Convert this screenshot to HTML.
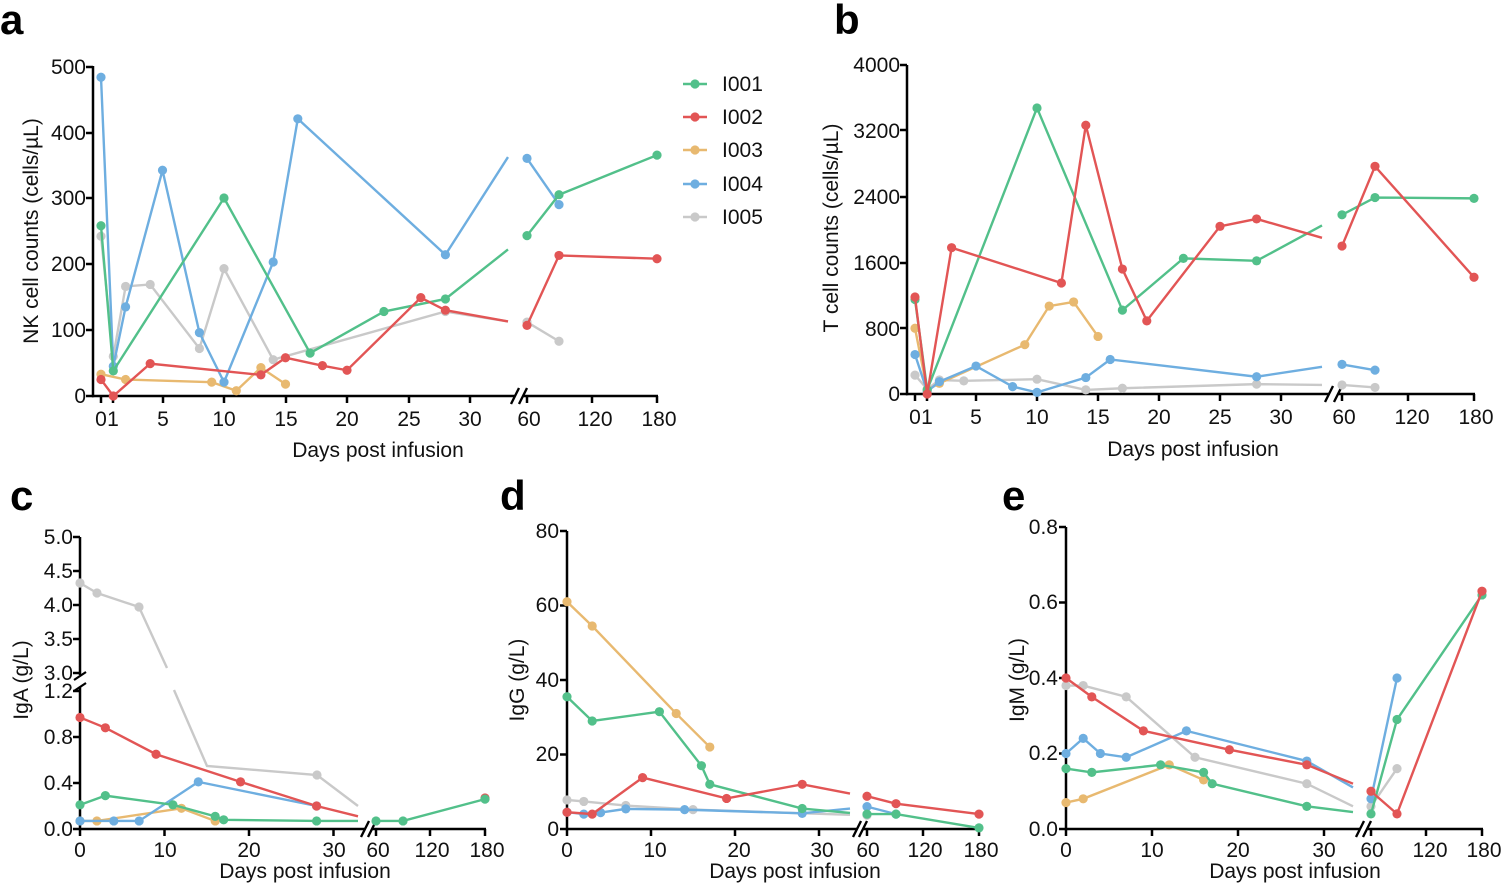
<!DOCTYPE html>
<html><head><meta charset="utf-8"><style>
html,body{margin:0;padding:0;background:#fff;}
svg{display:block;font-family:"Liberation Sans",sans-serif;}
</style></head><body>
<svg id="s" width="1506" height="884" viewBox="0 0 1506 884" xmlns="http://www.w3.org/2000/svg">
<g font-weight="bold" font-size="42" fill="#000">
<text x="0" y="34">a</text><text x="834" y="34">b</text>
<text x="10" y="510">c</text><text x="500" y="510">d</text><text x="1002" y="510">e</text>
</g>
<g font-size="21" fill="#111">
<g text-anchor="end"><text x="86" y="74">500</text><text x="86" y="140">400</text><text x="86" y="205">300</text><text x="86" y="271">200</text><text x="86" y="337">100</text><text x="86" y="403">0</text></g>
<g text-anchor="middle"><text x="101" y="426">0</text><text x="113" y="426">1</text><text x="163" y="426">5</text><text x="224" y="426">10</text><text x="286" y="426">15</text><text x="347" y="426">20</text><text x="409" y="426">25</text><text x="470" y="426">30</text><text x="529" y="426">60</text><text x="595" y="426">120</text><text x="659" y="426">180</text>
<text x="378" y="457" font-size="21">Days post infusion</text>
<text transform="translate(38,231) rotate(-90)">NK cell counts (cells/µL)</text></g>
<g><text x="722" y="91">I001</text><text x="722" y="124">I002</text><text x="722" y="157">I003</text><text x="722" y="191">I004</text><text x="722" y="224">I005</text></g>
<g text-anchor="end"><text x="900" y="72">4000</text><text x="900" y="138">3200</text><text x="900" y="204">2400</text><text x="900" y="270">1600</text><text x="900" y="336">800</text><text x="900" y="401">0</text></g>
<g text-anchor="middle"><text x="915" y="424">0</text><text x="927" y="424">1</text><text x="976" y="424">5</text><text x="1037" y="424">10</text><text x="1098" y="424">15</text><text x="1159" y="424">20</text><text x="1220" y="424">25</text><text x="1281" y="424">30</text><text x="1344" y="424">60</text><text x="1412" y="424">120</text><text x="1476" y="424">180</text>
<text x="1193" y="456">Days post infusion</text>
<text transform="translate(838,228) rotate(-90)">T cell counts (cells/µL)</text></g>
<g text-anchor="end"><text x="73" y="544">5.0</text><text x="73" y="578">4.5</text><text x="73" y="612">4.0</text><text x="73" y="646">3.5</text><text x="73" y="680">3.0</text><text x="73" y="698">1.2</text><text x="73" y="744">0.8</text><text x="73" y="790">0.4</text><text x="73" y="836">0.0</text></g>
<g text-anchor="middle"><text x="80" y="857">0</text><text x="165" y="857">10</text><text x="249" y="857">20</text><text x="334" y="857">30</text><text x="378" y="857">60</text><text x="432" y="857">120</text><text x="487" y="857">180</text>
<text x="305" y="878">Days post infusion</text>
<text transform="translate(28,680) rotate(-90)">IgA (g/L)</text></g>
<g text-anchor="end"><text x="559" y="538">80</text><text x="559" y="612">60</text><text x="559" y="687">40</text><text x="559" y="761">20</text><text x="559" y="836">0</text></g>
<g text-anchor="middle"><text x="567" y="857">0</text><text x="655" y="857">10</text><text x="739" y="857">20</text><text x="822" y="857">30</text><text x="868" y="857">60</text><text x="925" y="857">120</text><text x="981" y="857">180</text>
<text x="795" y="878">Days post infusion</text>
<text transform="translate(524,680) rotate(-90)">IgG (g/L)</text></g>
<g text-anchor="end"><text x="1058" y="534">0.8</text><text x="1058" y="609">0.6</text><text x="1058" y="685">0.4</text><text x="1058" y="760">0.2</text><text x="1058" y="836">0.0</text></g>
<g text-anchor="middle"><text x="1066" y="857">0</text><text x="1152" y="857">10</text><text x="1238" y="857">20</text><text x="1324" y="857">30</text><text x="1372" y="857">60</text><text x="1430" y="857">120</text><text x="1484" y="857">180</text>
<text x="1295" y="878">Days post infusion</text>
<text transform="translate(1024,680) rotate(-90)">IgM (g/L)</text></g>
</g>
<g id="plot"></g>
</svg>
<script>
const NS="http://www.w3.org/2000/svg";
const g=document.getElementById('plot');
function el(t,a){const e=document.createElementNS(NS,t);for(const k in a)e.setAttribute(k,a[k]);g.appendChild(e);return e;}
function line(x1,y1,x2,y2,w){el('line',{x1,y1,x2,y2,stroke:'#000','stroke-width':w||2.5});}
const C={g:'#52c08a',r:'#e25555',o:'#e8b970',b:'#6eaee0',y:'#c9c9c9'};
const P={
a:{x0:101,dx:12.3,E:508,A:527,B:559,C:657,y:v=>396-0.66*v},
b:{x0:915,dx:12.2,E:1322,A:1342,B:1375,C:1474,y:v=>394-v*0.0822},
c:{x0:80,dx:8.45,E:358,A:376,B:403,C:485,y:v=>v>=2.9?673-(v-3)*68:829-115*v},
d:{x0:567,dx:8.4,E:850,A:867,B:896,C:979,y:v=>829-3.725*v},
e:{x0:1066,dx:8.6,E:1353,A:1371,B:1397,C:1482,y:v=>829-377.5*v}};
function X(p,k){return typeof k==='number'?p.x0+p.dx*k:p[k];}
function series(pn,col,segs){const p=P[pn];
 segs.forEach(s=>{const pts=s.map(q=>[X(p,q[0]),p.y(q[1]),q[0]!=='E']);
  el('polyline',{points:pts.map(q=>q[0]+','+q[1]).join(' '),fill:'none',stroke:C[col],'stroke-width':2.4});
  pts.forEach(q=>{if(q[2])el('circle',{cx:q[0],cy:q[1],r:4.6,fill:C[col]});});});}
function axes(x,yTop,yBot,E,A,Cx,yt,xt){
 line(x,yTop,x,yBot+1.2);
 line(x-1,yBot,E+7,yBot); line(A-4,yBot,Cx+1,yBot);
 line(E+3,yBot+8,E+11,yBot-8,2.4); line(A-8,yBot+8,A,yBot-8,2.4);
 yt.forEach(v=>line(x-7,v,x,v)); xt.forEach(v=>line(v,yBot,v,yBot+7));
}
axes(93,66,396,508,527,657,[67,133,198,264,330,396],[101,113,163,224,286,347,409,470,527,592,657]);
axes(907,65,394,1322,1342,1474,[65,130,197,263,328,394],[915,927,976,1037,1098,1159,1220,1281,1342,1408,1474]);
axes(80,537,829,358,376,485,[537,571,605,639,673,691,737,783,829],[80,164.5,249,333.5,376,430,485]);
axes(567,531,829,850,867,979,[531,605.5,680,754.5,829],[567,651,735,819,867,923,979]);
axes(1066,527,829,1353,1371,1482,[527,602.5,678,753.5,829],[1066,1152,1238,1324,1371,1426,1482]);
el('rect',{x:74,y:675,width:12,height:12,fill:'#fff'});
line(74,680,86,672,2.2);line(74,691,86,683,2.2);
[['g',84],['r',117],['o',150],['b',184],['y',217]].forEach(([c,y])=>{el('line',{x1:683,y1:y,x2:707,y2:y,stroke:C[c],'stroke-width':2.4});el('circle',{cx:695,cy:y,r:4.6,fill:C[c]});});
series('a','y',[[[0,242],[1,60],[2,166],[4,169],[8,72],[10,193],[14,55],[28,128],['E',113]],[['A',112],['B',83]]]);
series('a','o',[[[0,33],[2,25],[9,21],[11,8],[13,43],[15,18]]]);
series('a','b',[[[0,483],[1,45],[2,135],[5,342],[8,96],[10,21],[14,203],[16,420],[28,214],['E',362]],[['A',360],['B',290]]]);
series('a','g',[[[0,258],[1,38],[10,300],[17,65],[23,128],[28,147],['E',222]],[['A',243],['B',305],['C',365]]]);
series('a','r',[[[0,25],[1,0],[4,49],[13,32],[15,58],[18,46],[20,39],[26,149],[28,130],['E',113]],[['A',107],['B',213],['C',208]]]);
series('b','y',[[[0,230],[1,60],[2,170],[4,160],[10,180],[14,50],[17,70],[28,120],['E',110]],[['A',110],['B',80]]]);
series('b','o',[[[0,800],[1,50],[2,130],[9,600],[11,1070],[13,1120],[15,700]]]);
series('b','b',[[[0,480],[1,30],[2,150],[5,340],[8,90],[10,20],[14,200],[16,420],[28,210],['E',330]],[['A',360],['B',290]]]);
series('b','g',[[[0,1150],[1,50],[10,3480],[17,1020],[22,1650],[28,1620],['E',2050]],[['A',2180],['B',2390],['C',2380]]]);
series('b','r',[[[0,1180],[1,0],[3,1780],[12,1350],[14,3270],[17,1520],[19,890],[25,2040],[28,2130],['E',1900]],[['A',1800],['B',2770],['C',1420]]]);
el('polyline',{points:'80,583 97,593 139,607 167,668',fill:'none',stroke:C.y,'stroke-width':2.4});
el('polyline',{points:'174,690 207,766 317,775 358,806',fill:'none',stroke:C.y,'stroke-width':2.4});
[[80,583],[97,593],[139,607],[317,775]].forEach(q=>el('circle',{cx:q[0],cy:q[1],r:4.6,fill:C.y}));
series('c','o',[[[0,0.07],[2,0.07],[12,0.18],[16,0.07]]]);
series('c','b',[[[0,0.07],[4,0.07],[7,0.07],[14,0.41],[28,0.2]]]);
series('c','r',[[[0,0.97],[3,0.88],[9,0.65],[19,0.41],[28,0.2],['E',0.11]],[['C',0.27]]]);
series('c','g',[[[0,0.21],[3,0.29],[11,0.21],[16,0.11],[17,0.08],[28,0.07],['E',0.07]],[['A',0.07],['B',0.07],['C',0.26]]]);
series('d','y',[[[0,7.8],[2,7.4],[7,6.3],[15,5.2],['E',3.8]],[['A',3.7]]]);
series('d','b',[[[0,4.5],[2,4],[4,4.4],[7,5.4],[14,5.2],[28,4.2],['E',5.5]],[['A',6],['B',4]]]);
series('d','o',[[[0,61],[3,54.5],[13,31],[17,22]]]);
series('d','g',[[[0,35.5],[3,29],[11,31.5],[16,17],[17,12],[28,5.5],['E',4.3]],[['A',4],['B',4],['C',0.3]]]);
series('d','r',[[[0,4.5],[3,4],[9,13.8],[19,8.2],[28,12],['E',9.5]],[['A',8.8],['B',6.8],['C',4]]]);
series('e','y',[[[0,0.38],[2,0.38],[7,0.35],[15,0.19],[28,0.12],['E',0.06]],[['A',0.06],['B',0.16]]]);
series('e','o',[[[0,0.07],[2,0.08],[12,0.17],[16,0.13]]]);
series('e','b',[[[0,0.2],[2,0.24],[4,0.2],[7,0.19],[14,0.26],[28,0.18],['E',0.11]],[['A',0.08],['B',0.4]]]);
series('e','g',[[[0,0.16],[3,0.15],[11,0.17],[16,0.15],[17,0.12],[28,0.06],['E',0.045]],[['A',0.04],['B',0.29],['C',0.62]]]);
series('e','r',[[[0,0.4],[3,0.35],[9,0.26],[19,0.21],[28,0.17],['E',0.12]],[['A',0.1],['B',0.04],['C',0.63]]]);
</script>
</body></html>
